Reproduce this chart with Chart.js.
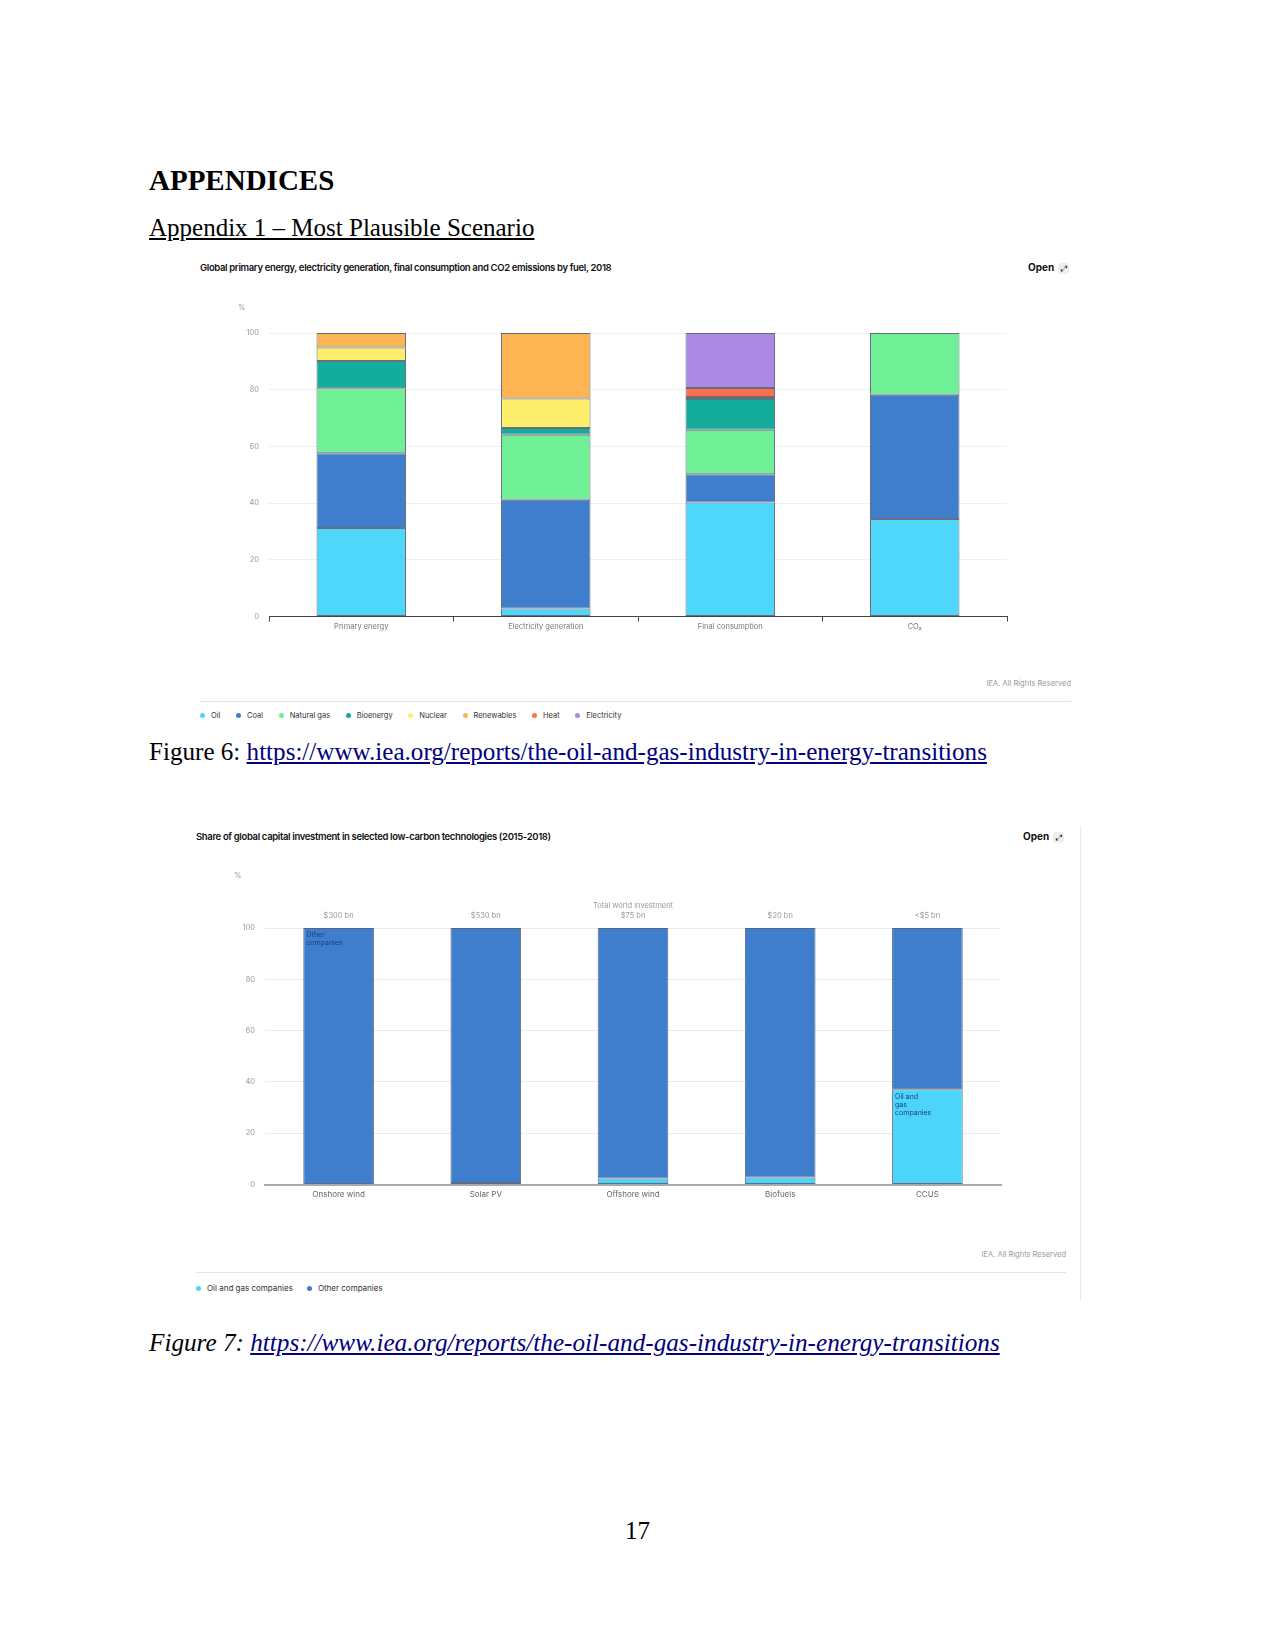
<!DOCTYPE html>
<html>
<head>
<meta charset="utf-8">
<script src="https://cdn.jsdelivr.net/npm/chart.js@4"></script>
<style>
  html, body { margin:0; padding:0; background:#fff; }
  #page { position:relative; width:1275px; height:1650px; background:#fff; overflow:hidden; }
  .serif { position:absolute; font-family:"Liberation Serif","Times New Roman",serif; color:#000; line-height:1; white-space:nowrap; }
  .link { color:#000080; text-decoration:underline; }
  .ctitle { position:absolute; font-family:Inter, "Open Sans", sans-serif; font-weight:600; font-size:9.5px; letter-spacing:-0.35px; color:#111; white-space:nowrap; line-height:1; }
  .open { position:absolute; font-family:Inter, sans-serif; font-weight:700; font-size:10px; color:#111; white-space:nowrap; line-height:1; }
  .open span { display:inline-block; margin-left:4px; width:11px; height:11px; border-radius:3px; background:#eee; font-size:8px; text-align:center; line-height:11px; font-weight:400; }
  .small { position:absolute; font-family:Inter, sans-serif; font-size:7.5px; color:#888; white-space:nowrap; line-height:1; }
  .sep { position:absolute; height:1px; background:#e4e4e4; }
  .legend { position:absolute; font-family:Inter, sans-serif; font-size:7.5px; color:#333; white-space:nowrap; line-height:1; display:flex; align-items:center; }
  .legend .item { display:flex; align-items:center; }
  .legend .dot { width:5px; height:5px; border-radius:50%; margin-right:6px; }
  canvas { position:absolute; }
</style>
</head>
<body>
<div id="page">
  <div class="serif" style="left:149px; top:166px; font-size:29px; font-weight:bold;">APPENDICES</div>
  <div class="serif" style="left:149px; top:215px; font-size:25px; text-decoration:underline;">Appendix 1 – Most Plausible Scenario</div>

  <!-- Figure 6 -->
  <div class="ctitle" style="left:200px; top:263px;">Global primary energy, electricity generation, final consumption and CO2 emissions by fuel, 2018</div>
  <div class="open" style="left:1028px; top:262px;">Open<span>⤢</span></div>
  <div class="small" style="left:238px; top:304px; color:#999;">%</div>
  <canvas id="c1" width="875" height="345" style="left:200px; top:295px;"></canvas>
  <div class="small" style="right:204px; top:680px; color:#999;">IEA. All Rights Reserved</div>
  <div class="sep" style="left:200px; width:871px; top:701px;"></div>
  <div class="legend" id="legend1" style="left:200px; top:712px;"></div>
  <div class="serif" style="left:149px; top:739px; font-size:25.1px;">Figure 6: <span class="link">https://www.iea.org/reports/the-oil-and-gas-industry-in-energy-transitions</span></div>

  <!-- Figure 7 -->
  <div style="position:absolute; left:1080px; top:826px; width:1px; height:474px; background:#e8e8e8;"></div>
  <div class="ctitle" style="left:196px; top:832px;">Share of global capital investment in selected low-carbon technologies (2015-2018)</div>
  <div class="open" style="left:1023px; top:831px;">Open<span>⤢</span></div>
  <div class="small" style="left:234px; top:872px; color:#999;">%</div>
  <canvas id="c2" width="870" height="320" style="left:196px; top:890px;"></canvas>
  <div class="small" style="right:209px; top:1251px; color:#999;">IEA. All Rights Reserved</div>
  <div class="sep" style="left:196px; width:870px; top:1272px;"></div>
  <div class="legend" id="legend2" style="left:196px; top:1284px; font-size:8px;"></div>
  <div class="serif" style="left:149px; top:1330px; font-size:25.2px; font-style:italic;">Figure 7: <span class="link">https://www.iea.org/reports/the-oil-and-gas-industry-in-energy-transitions</span></div>

  <div class="serif" style="left:625px; top:1518px; font-size:25px;">17</div>
</div>

<script>
// ---------- Figure 6 data ----------
const categories1 = ['Primary energy', 'Electricity generation', 'Final consumption', 'CO\u2082'];
const fuelNames = ['Oil', 'Coal', 'Natural gas', 'Bioenergy', 'Nuclear', 'Renewables', 'Heat', 'Electricity'];
const fuelColors = ['#4fd6fb', '#3e7ecd', '#6ff096', '#14ad9c', '#fdee6b', '#fdb452', '#fe6f4e', '#ab8ae6'];
const oil         = [31.2,  2.8, 40.2, 34.4];
const coal        = [26.4, 38.4, 10.0, 43.8];
const naturalGas  = [22.9, 22.9, 15.7, 21.8];
const bioenergy   = [ 9.6,  2.4, 10.8,  0];
const nuclear     = [ 4.8, 10.4,  0,    0];
const renewables  = [ 5.1, 23.1,  0.7,  0];
const heat        = [ 0,    0,    3.2,  0];
const electricity = [ 0,    0,   19.4,  0];
const yTicks1 = [0, 20, 40, 60, 80, 100];

// ---------- Figure 7 data ----------
const categories2 = ['Onshore wind', 'Solar PV', 'Offshore wind', 'Biofuels', 'CCUS'];
const totalInvestment = ['$300 bn', '$530 bn', '$75 bn', '$20 bn', '<$5 bn'];
const companyNames = ['Oil and gas companies', 'Other companies'];
const companyColors = ['#4dd5f9', '#3e7ecd'];
const oilGasShare = [0.2, 0.6, 2.3, 2.7, 37.1];
const otherShare  = [99.8, 99.4, 97.7, 97.3, 62.9];
const yTicks2 = [0, 20, 40, 60, 80, 100];

const FONT = 'Inter, "Open Sans", sans-serif';

function buildLegend(id, names, colors, gap) {
  const el = document.getElementById(id);
  names.forEach((n, i) => {
    const it = document.createElement('div');
    it.className = 'item';
    it.style.marginRight = gap + 'px';
    it.innerHTML = '<span class="dot" style="background:' + colors[i] + '"></span>' + n;
    el.appendChild(it);
  });
}
buildLegend('legend1', fuelNames, fuelColors, 15.6);
buildLegend('legend2', companyNames, companyColors, 14);

const series1 = [oil, coal, naturalGas, bioenergy, nuclear, renewables, heat, electricity];
new Chart(document.getElementById('c1'), {
  type: 'bar',
  data: {
    labels: categories1,
    datasets: series1.map((d, i) => ({
      label: fuelNames[i], data: d, backgroundColor: fuelColors[i],
      borderColor: 'rgba(25,35,55,0.65)', borderWidth: 1, borderSkipped: false,
      categoryPercentage: 1, barPercentage: 0.485
    }))
  },
  options: {
    responsive: false, animation: false,
    layout: { padding: { top: 38, right: 68, left: 0, bottom: 0 } },
    plugins: { legend: { display: false }, tooltip: { enabled: false } },
    scales: {
      x: {
        stacked: true,
        grid: { display: true, drawOnChartArea: false, drawTicks: true, tickLength: 5, offset: true, color: '#444' },
        border: { display: true, color: '#444', width: 1 },
        ticks: { color: '#777', font: { family: FONT, size: 7.5 }, padding: 1, maxRotation: 0 },
        afterFit: s => { s.height = 23.5; }
      },
      y: {
        stacked: true, min: 0, max: 100,
        afterBuildTicks: s => { s.ticks = yTicks1.map(v => ({ value: v })); },
        grid: { color: '#efefef', drawTicks: false },
        border: { display: false },
        ticks: { color: '#999', font: { family: FONT, size: 7.5 }, padding: 10 },
        afterFit: s => { s.width = 69; }
      }
    }
  }
});

const annotations2 = {
  id: 'annotations2',
  afterDatasetsDraw(chart) {
    const ctx = chart.ctx;
    const xs = chart.scales.x;
    const top = chart.chartArea.top;
    ctx.save();
    ctx.fillStyle = '#999';
    ctx.font = '7.5px ' + FONT;
    ctx.textAlign = 'center';
    ctx.textBaseline = 'middle';
    totalInvestment.forEach((t, i) => ctx.fillText(t, xs.getPixelForValue(i), top - 12));
    ctx.fillText('Total world investment', xs.getPixelForValue(2), top - 22);
    // labels inside bars
    ctx.fillStyle = '#1b3d8f';
    ctx.font = '7px ' + FONT;
    ctx.textAlign = 'left';
    const other = chart.getDatasetMeta(1).data[0];
    const ox = other.x - other.width / 2 + 3;
    ['Other', 'companies'].forEach((l, k) => ctx.fillText(l, ox, other.y + 7 + k * 8));
    const og = chart.getDatasetMeta(0).data[4];
    const gx = og.x - og.width / 2 + 3;
    ['Oil and', 'gas', 'companies'].forEach((l, k) => ctx.fillText(l, gx, og.y + 8 + k * 8));
    ctx.restore();
  }
};

new Chart(document.getElementById('c2'), {
  type: 'bar',
  data: {
    labels: categories2,
    datasets: [oilGasShare, otherShare].map((d, i) => ({
      label: companyNames[i], data: d, backgroundColor: companyColors[i],
      borderColor: 'rgba(25,45,80,0.7)', borderWidth: 1, borderSkipped: false,
      categoryPercentage: 1, barPercentage: 0.48
    }))
  },
  options: {
    responsive: false, animation: false,
    layout: { padding: { top: 38, right: 65, left: 0, bottom: 0 } },
    plugins: { legend: { display: false }, tooltip: { enabled: false } },
    scales: {
      x: {
        stacked: true,
        grid: { display: false, drawTicks: false },
        border: { display: true, color: '#aaaaaa', width: 2 },
        ticks: { color: '#666', font: { family: FONT, size: 8 }, padding: 5, maxRotation: 0 },
        afterFit: s => { s.height = 25.5; }
      },
      y: {
        stacked: true, min: 0, max: 100,
        afterBuildTicks: s => { s.ticks = yTicks2.map(v => ({ value: v })); },
        grid: { color: '#ececec', drawTicks: false },
        border: { display: false },
        ticks: { color: '#999', font: { family: FONT, size: 7.5 }, padding: 10 },
        afterFit: s => { s.width = 69; }
      }
    }
  },
  plugins: [annotations2]
});
</script>
</body>
</html>
